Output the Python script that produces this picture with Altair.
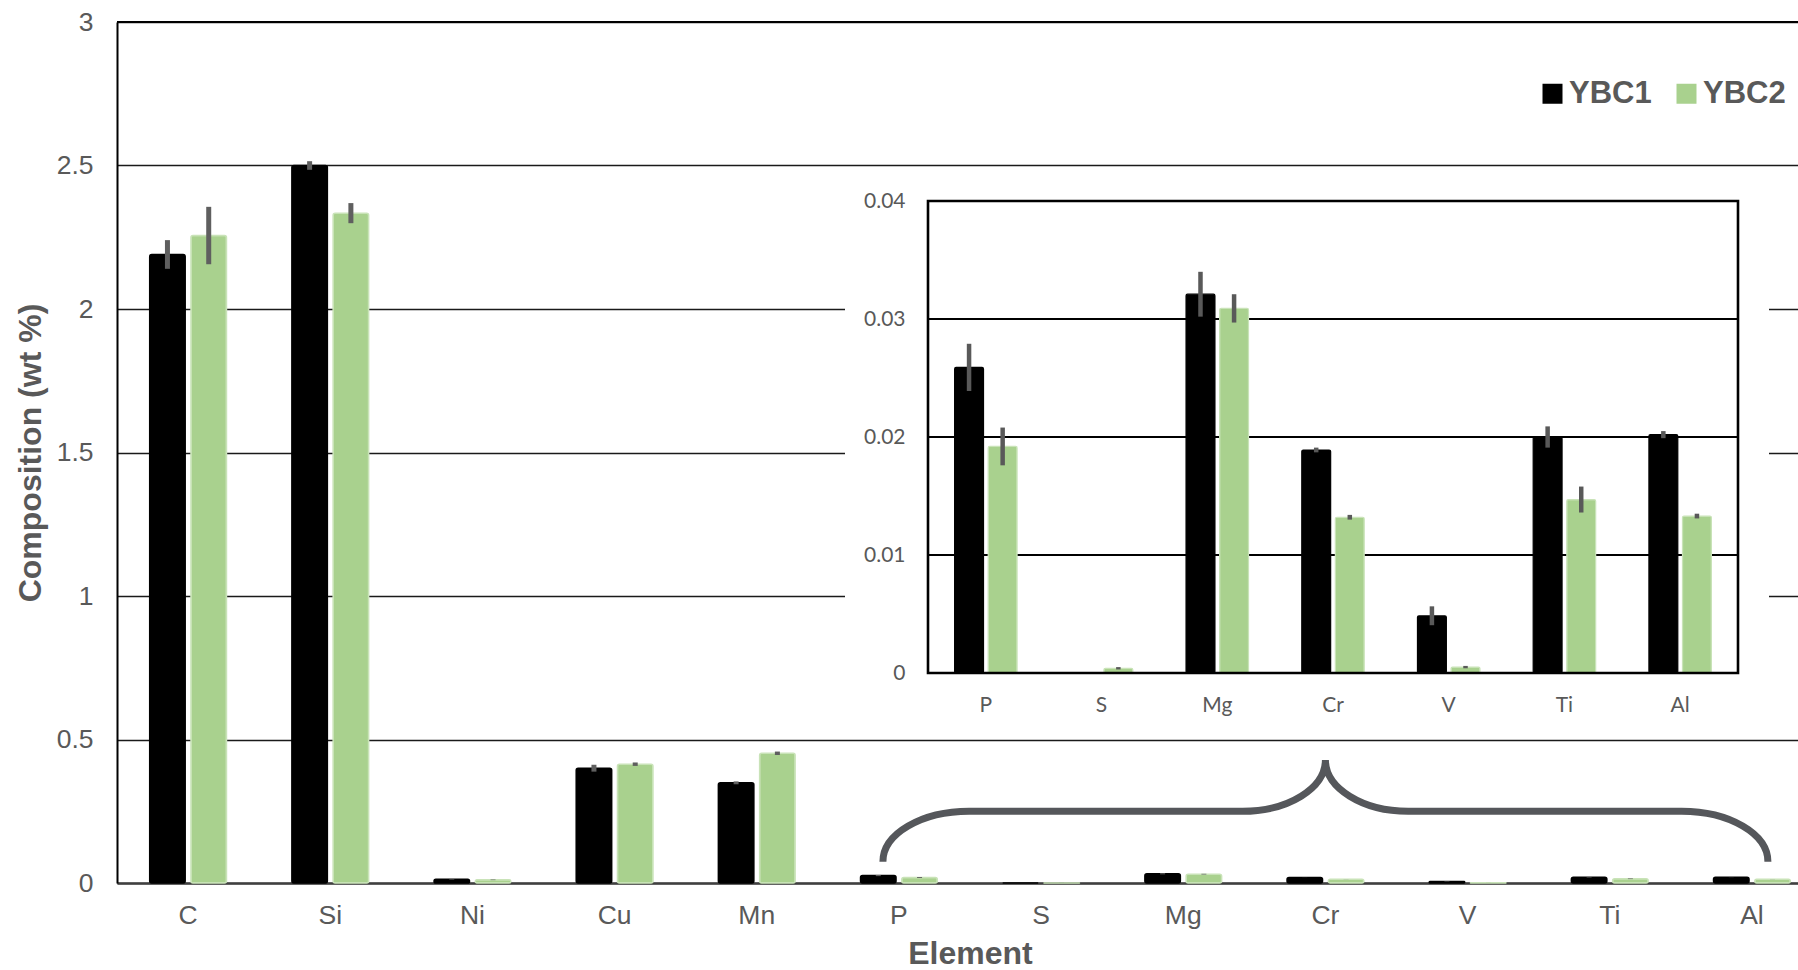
import altair as alt
import pandas as pd

# ---- data -----------------------------------------------------------------
elements = ["C", "Si", "Ni", "Cu", "Mn", "P", "S", "Mg", "Cr", "V", "Ti", "Al"]
trace_elements = ["P", "S", "Mg", "Cr", "V", "Ti", "Al"]
samples = ["YBC1", "YBC2"]

ybc1_mean = [2.19, 2.50, 0.013, 0.400, 0.349, 0.0259, 0.0, 0.0321, 0.0189, 0.00485, 0.0200, 0.0202]
ybc1_err = [0.050, 0.015, 0.001, 0.012, 0.005, 0.0020, 0.0, 0.0019, 0.0002, 0.0008, 0.0009, 0.0003]
ybc2_mean = [2.256, 2.334, 0.011, 0.414, 0.452, 0.0192, 0.0004, 0.0309, 0.0132, 0.0005, 0.0147, 0.0133]
ybc2_err = [0.100, 0.035, 0.001, 0.006, 0.006, 0.0016, 0.0001, 0.0012, 0.0002, 0.0001, 0.0011, 0.0002]

main_ticks = [0, 0.5, 1, 1.5, 2, 2.5, 3]
inset_ticks = [0, 0.01, 0.02, 0.03, 0.04]
inset_grid = [0.01, 0.02, 0.03]

# ---- long table -----------------------------------------------------------
rows = []
for sample, means, errs in [("YBC1", ybc1_mean, ybc1_err), ("YBC2", ybc2_mean, ybc2_err)]:
    for el, m, e in zip(elements, means, errs):
        rows.append({"element": el, "sample": sample, "value": m,
                     "lo": max(m - e, 0), "hi": m + e})
df = pd.DataFrame(rows)
df_inset = df[df["element"].isin(trace_elements)].reset_index(drop=True)

# ---- layout (pixels, inside the main plot area) ---------------------------
W, H = 1681, 861
BAND_RANGE = [0, 1706]          # last category runs past the right edge
INSET_X = [811, 1621]
INSET_Y = [651, 179]            # bottom, top
BG_X, BG_Y = (728, 1652), (150, 712)

FONT = "Liberation Sans"
INSET_FONT = "Lato"
GREY = "#595959"
colors = ["#000000", "#a9d18e"]
edges = ["#000000", "#c9e3b8"]

color_enc = alt.Color(
    "sample:N",
    scale=alt.Scale(domain=samples, range=colors),
    legend=alt.Legend(
        title=None, orient="none", legendX=1420, legendY=56,
        direction="horizontal", symbolType="square", symbolSize=400,
        symbolStrokeWidth=0, symbolOpacity=1, padding=0,
        labelFont=FONT, labelFontSize=31, labelFontWeight="bold",
        labelColor=GREY, labelOffset=1, columnPadding=19,
    ),
)
stroke_enc = alt.Stroke("sample:N", scale=alt.Scale(domain=samples, range=edges), legend=None)

# ---- main chart -----------------------------------------------------------
x_main = alt.X(
    "element:N", sort=elements,
    scale=alt.Scale(domain=elements, range=BAND_RANGE, paddingInner=0.46, paddingOuter=0.23),
    axis=alt.Axis(
        title="Element", labelAngle=0, ticks=False, grid=False,
        domainColor="#404040", domainWidth=2.5,
        labelFont=FONT, labelFontSize=26.5, labelColor=GREY, labelPadding=19,
        titleFont=FONT, titleFontSize=32, titleFontWeight="bold", titleColor=GREY,
        titleY=70, titleBaseline="middle",
    ),
)
xo_main = alt.XOffset("sample:N", scale=alt.Scale(domain=samples, paddingInner=0.14, paddingOuter=0))
y_main = alt.Y(
    "value:Q",
    scale=alt.Scale(domain=[0, 3], nice=False),
    axis=alt.Axis(
        title="Composition (wt %)", values=main_ticks, format="~g",
        grid=True, gridColor="#1a1a1a", gridWidth=1.5,
        domainColor="#000000", domainWidth=2, ticks=False,
        labelFont=FONT, labelFontSize=26.5, labelColor=GREY, labelPadding=24,
        titleFont=FONT, titleFontSize=32, titleFontWeight="bold", titleColor=GREY,
        titleX=-87, titleBaseline="middle",
    ),
)

main_base = alt.Chart(df)
main_bars = main_base.mark_bar(cornerRadius=2, strokeWidth=1.5).encode(
    x=x_main, xOffset=xo_main, y=y_main, color=color_enc, stroke=stroke_enc
)
main_err = main_base.mark_rule(strokeWidth=5, color="#5f5f5f").encode(
    x=alt.X("element:N", sort=elements), xOffset="sample:N",
    y="lo:Q", y2="hi:Q",
)
top_line = alt.Chart(pd.DataFrame({"value": [main_ticks[-1]]})).mark_rule(
    color="#000000", strokeWidth=2.2
).encode(y="value:Q")

# curly brace pointing from the trace elements up to the inset
BRACE = ("M -1 0.114 C -1 0.051 -0.913 0 -0.805 0 L -0.187 0 "
         "C -0.084 0 0 -0.052 0 -0.116 C 0 -0.052 0.084 0 0.187 0 "
         "L 0.805 0 C 0.913 0 1 0.051 1 0.114")
brace = alt.Chart(pd.DataFrame({"element": ["Cr"], "value": [0.25]})).mark_point(
    shape=BRACE, size=885 ** 2, filled=False, stroke="#55575b",
    strokeWidth=7, opacity=1, strokeCap="butt",
).encode(x=alt.X("element:N", sort=elements), y="value:Q")

main = alt.layer(main_bars, main_err, top_line, brace)

# ---- inset background -----------------------------------------------------
inset_bg = alt.Chart(pd.DataFrame({"k": [0]})).mark_rect(fill="white").encode(
    x=alt.value(BG_X[0]), x2=alt.value(BG_X[1]),
    y=alt.value(BG_Y[0]), y2=alt.value(BG_Y[1]),
)

# ---- inset chart ----------------------------------------------------------
x_in = alt.X(
    "element:N", sort=trace_elements,
    scale=alt.Scale(domain=trace_elements, range=INSET_X, paddingInner=0.46, paddingOuter=0.23),
    axis=alt.Axis(
        orient="bottom", offset=-(H - INSET_Y[0]), zindex=1, title=None,
        labelAngle=0, domain=False, ticks=False, grid=False,
        labelFont=INSET_FONT, labelFontSize=21, labelColor=GREY, labelPadding=21,
    ),
)
xo_in = alt.XOffset("sample:N", scale=alt.Scale(domain=samples, paddingInner=0.14, paddingOuter=0))
y_in = alt.Y(
    "value:Q",
    scale=alt.Scale(domain=[0, 0.04], range=INSET_Y, nice=False),
    axis=alt.Axis(
        orient="left", offset=-INSET_X[0], zindex=1, title=None,
        values=inset_ticks, format="~g", domain=False, ticks=False, grid=False,
        labelFont=INSET_FONT, labelFontSize=21, labelColor=GREY, labelPadding=23,
    ),
)

inset_gridlines = alt.Chart(pd.DataFrame({"value": inset_grid})).mark_rule(
    color="#000000", strokeWidth=2.2
).encode(y="value:Q", x=alt.value(INSET_X[0]), x2=alt.value(INSET_X[1]))

inset_base = alt.Chart(df_inset)
inset_bars = inset_base.mark_bar(cornerRadius=1.5, strokeWidth=1.2).encode(
    x=x_in, xOffset=xo_in, y=y_in, color=color_enc, stroke=stroke_enc
)
inset_err = inset_base.mark_rule(strokeWidth=4.5, color="#595959").encode(
    x=alt.X("element:N", sort=trace_elements), xOffset="sample:N",
    y="lo:Q", y2="hi:Q",
)
inset_frame = alt.Chart(pd.DataFrame({"k": [0]})).mark_rect(
    fillOpacity=0, stroke="#000000", strokeWidth=2.6
).encode(
    x=alt.value(INSET_X[0]), x2=alt.value(INSET_X[1]),
    y=alt.value(INSET_Y[1]), y2=alt.value(INSET_Y[0]),
)

inset = alt.layer(inset_gridlines, inset_bars, inset_err, inset_frame)

# ---- assemble -------------------------------------------------------------
chart = alt.layer(main, inset_bg, inset).resolve_scale(
    x="independent", y="independent", xOffset="independent"
).properties(
    width=W, height=H,
    autosize=alt.AutoSizeParams(type="none"),
    padding={"left": 117, "top": 22, "right": 0, "bottom": 86},
    background="white",
).configure_view(stroke=None)

chart.save("out.html", embed_options={"renderer": "svg", "actions": False})
